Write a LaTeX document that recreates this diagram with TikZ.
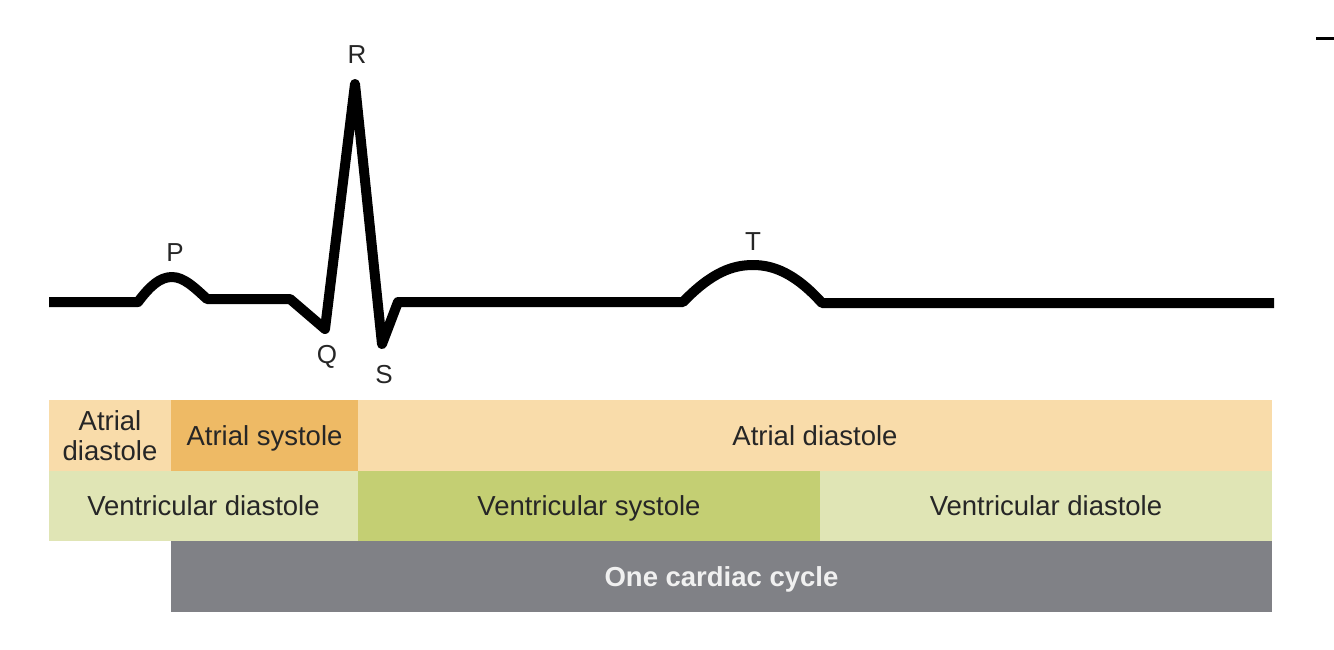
\documentclass[tikz,border=0pt]{standalone}
\usepackage{fontspec}
\setmainfont{Liberation Sans}
\usetikzlibrary{positioning}

\definecolor{atrdia}{RGB}{249,220,170}
\definecolor{atrsys}{RGB}{238,186,101}
\definecolor{vendia}{RGB}{224,229,181}
\definecolor{vensys}{RGB}{196,207,115}
\definecolor{cyclegray}{RGB}{128,129,134}

\begin{document}
\begin{tikzpicture}[x=1pt, y=-1pt, node distance=0pt,
        phase/.style={rectangle, inner sep=0pt, outer sep=0pt, minimum height=70.5pt, align=center, text=black!85, text height=21pt, text depth=1pt, font=\fontsize{27.5}{30}\selectfont},
        wave/.style={line width=10pt, line join=round, line cap=butt},
        peak/.style={inner sep=0pt, text=black!85, font=\fontsize{26}{28}\selectfont}]
        \useasboundingbox (0,0) rectangle (1334,649);

        % atria
        \node[phase, fill=atrdia, minimum width=122pt, anchor=north west, text height=, text depth=] (adia1) at (49,400) {Atrial\\diastole};
        \node[phase, fill=atrsys, minimum width=187pt, right=of adia1] (asys) {Atrial systole};
        \node[phase, fill=atrdia, minimum width=914pt, right=of asys] (adia2) {Atrial diastole};

        % ventricles
        \node[phase, fill=vendia, minimum width=309pt, anchor=north west] (vdia1) at (adia1.south west) {Ventricular diastole};
        \node[phase, fill=vensys, minimum width=462pt, right=of vdia1] (vsys) {Ventricular systole};
        \node[phase, fill=vendia, minimum width=452pt, right=of vsys] (vdia2) {Ventricular diastole};

        % cycle
        \node[phase, fill=cyclegray, minimum width=1101pt, anchor=north west, text=white!94!black, font=\fontsize{27.5}{30}\selectfont\bfseries] (cycle) at (asys.west |- vdia1.south) {One cardiac cycle};

        % ECG trace
        \draw[wave] (49,302) -- (138,302)
            .. controls (150,286) and (160,277) .. (172,277)
            .. controls (184,277) and (195,288) .. (207,299)
            -- (290,299) -- (325,329) -- (355,84) -- (382,344) -- (398,302) -- (683,302)
            .. controls (712,272) and (733,265) .. (753,265)
            .. controls (773,265) and (795,273) .. (822,303) -- (1274,303);

        \node[peak] (lblP) at (175,253) {P};
        \node[peak] (lblQ) at (327,357) {Q};
        \node[peak] (lblR) at (357,55) {R};
        \node[peak] (lblS) at (384,375) {S};
        \node[peak] (lblT) at (753,242) {T};

        \draw[line width=3pt] (1316,38) -- (1334,38);
    \end{tikzpicture}
\end{document}
